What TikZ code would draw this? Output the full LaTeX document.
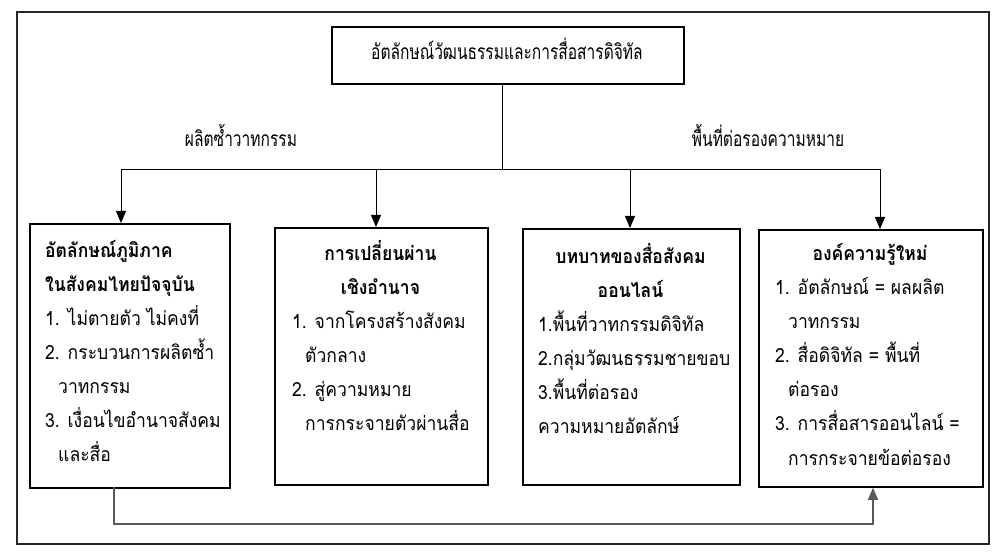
\documentclass[tikz,border=0pt]{standalone}
\usepackage{fontspec}
\newfontfamily\thai[Script=Thai,FakeStretch=0.9]{Loma}
\newfontfamily\thaithin[Script=Thai,FakeStretch=0.74]{Loma}
\usetikzlibrary{arrows.meta}
\begin{document}
\begin{tikzpicture}[x=1pt,y=-1pt,
  box/.style={draw=black,line width=1.8pt,anchor=north west,inner sep=0pt},
  frame/.style={draw=black!85,line width=1.1pt},
  conn/.style={draw=black,line width=0.9pt},
  arr/.style={conn,-{Triangle[length=12pt,width=10pt]}},
  fb/.style={draw=black!65,line width=1.1pt,-{Triangle[length=12pt,width=10pt]}},
  ln/.style={inner sep=0pt,anchor=base west,font=\thai\fontsize{19.5}{22}\selectfont},
  hd/.style={inner sep=0pt,anchor=base,font=\thai\bfseries\fontsize{19.5}{22}\selectfont},
  hdl/.style={hd,anchor=base west},
  lab/.style={inner sep=0pt,anchor=base,font=\thaithin\fontsize{21}{24}\selectfont}]
\useasboundingbox (0,0) rectangle (1005,553);
\fill[white] (0,0) rectangle (1005,553);
\draw[frame] (17,12) rectangle (989,544);

% top box
\node[box,minimum width=352pt,minimum height=57pt] (top) at (331,26) {};
\node[lab] (toptxt) at (507,60) {อัตลักษณ์วัฒนธรรมและการสื่อสารดิจิทัล};

% labels
\node[lab] (labl) at (241,147) {ผลิตซ้ำวาทกรรม};
\node[lab] (labr) at (768,147) {พื้นที่ต่อรองความหมาย};

% boxes
\node[box,minimum width=200pt,minimum height=264pt] (b1) at (29,223) {};
\node[box,minimum width=213pt,minimum height=257pt] (b2) at (274,227) {};
\node[box,minimum width=217pt,minimum height=256pt] (b3) at (522,228) {};
\node[box,minimum width=224pt,minimum height=257pt] (b4) at (758,229) {};

% connectors
\coordinate (stem) at (502,83);
\coordinate (hub) at (502,169);
\coordinate (c1) at (121,169);
\coordinate (c2) at (376,169);
\coordinate (c3) at (630,169);
\coordinate (c4) at (880,169);
\draw[conn] (stem) -- (hub);
\draw[conn] (c1) -- (c4);
\draw[arr] (c1) -- (c1 |- b1.north);
\draw[arr] (c2) -- (c2 |- b2.north);
\draw[arr] (c3) -- (c3 |- b3.north);
\draw[arr] (c4) -- (c4 |- b4.north);

% feedback
\coordinate (f1) at (114,487);
\coordinate (f2) at (114,524);
\coordinate (f3) at (873,524);
\draw[fb] (f1) -- (f2) -- (f3) -- (f3 |- b4.south);

% box 1
\node[hdl] (b1h1) at (45,258) {อัตลักษณ์ภูมิภาค};
\node[hdl] (b1h2) at (45,292) {ในสังคมไทยปัจจุบัน};
\node[ln] (b1l1) at (45,326) {1. ไม่ตายตัว ไม่คงที่};
\node[ln] (b1l2) at (45,360) {2. กระบวนการผลิตซ้ำ};
\node[ln] (b1l3) at (58,394) {วาทกรรม};
\node[ln] (b1l4) at (45,428) {3. เงื่อนไขอำนาจสังคม};
\node[ln] (b1l5) at (58,462) {และสื่อ};

% box 2
\node[hd] (b2h1) at (380.5,261) {การเปลี่ยนผ่าน};
\node[hd] (b2h2) at (380.5,295) {เชิงอำนาจ};
\node[ln] (b2l1) at (292,329) {1. จากโครงสร้างสังคม};
\node[ln] (b2l2) at (305,363) {ตัวกลาง};
\node[ln] (b2l3) at (292,397) {2. สู่ความหมาย};
\node[ln] (b2l4) at (305,431) {การกระจายตัวผ่านสื่อ};

% box 3
\node[hd] (b3h1) at (630.5,264) {บทบาทของสื่อสังคม};
\node[hd] (b3h2) at (630.5,298) {ออนไลน์};
\node[ln] (b3l1) at (538,332) {1.พื้นที่วาทกรรมดิจิทัล};
\node[ln] (b3l2) at (538,366) {2.กลุ่มวัฒนธรรมชายขอบ};
\node[ln] (b3l3) at (538,400) {3.พื้นที่ต่อรอง};
\node[ln] (b3l4) at (538,434) {ความหมายอัตลักษ์};

% box 4
\node[hd] (b4h1) at (870,261) {องค์ความรู้ใหม่};
\node[ln] (b4l1) at (775,295) {1. อัตลักษณ์ = ผลผลิต};
\node[ln] (b4l2) at (788,329) {วาทกรรม};
\node[ln] (b4l3) at (775,363) {2. สื่อดิจิทัล = พื้นที่};
\node[ln] (b4l4) at (788,397) {ต่อรอง};
\node[ln] (b4l5) at (775,431) {3. การสื่อสารออนไลน์ =};
\node[ln] (b4l6) at (788,465) {การกระจายข้อต่อรอง};
\end{tikzpicture}
\end{document}
